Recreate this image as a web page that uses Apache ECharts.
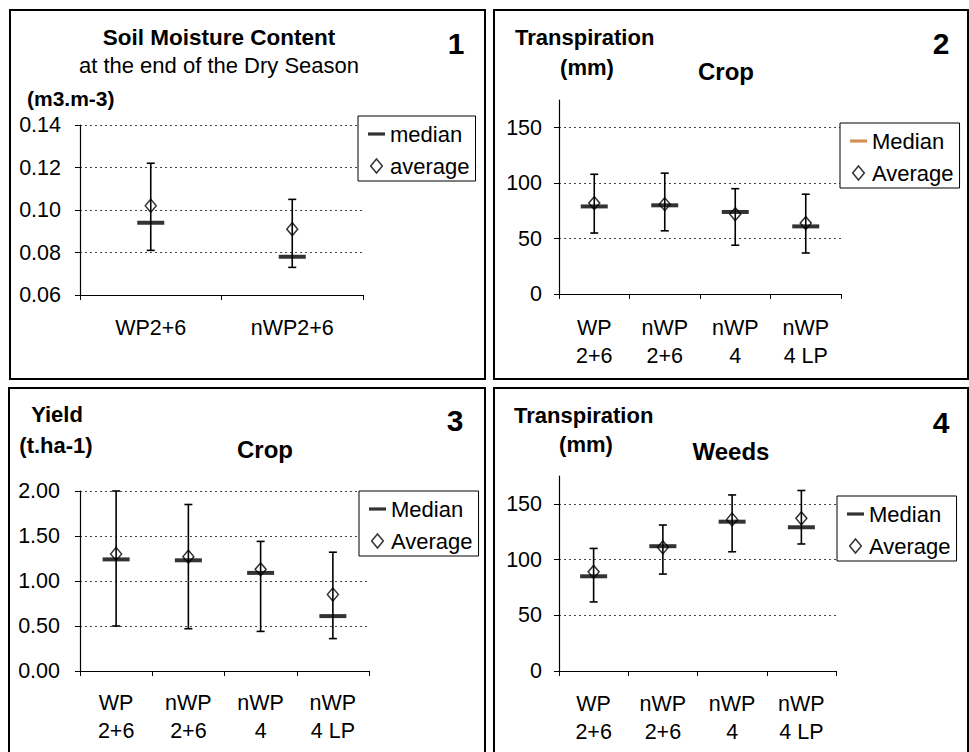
<!DOCTYPE html>
<html>
<head>
<meta charset="utf-8">
<script src="https://cdn.jsdelivr.net/npm/echarts@6/dist/echarts.min.js"></script>
<style>
  html, body { margin: 0; padding: 0; background: #fff; }
  #chart { width: 969px; height: 752px; }
</style>
</head>
<body>
<div id="chart"></div>
<script>
// categories
const soilCats = ['WP2+6', 'nWP2+6']
const treatCats = ['WP\n2+6', 'nWP\n2+6', 'nWP\n4', 'nWP\n4 LP']

// 1 - soil moisture (m3.m-3)
const soilMin = [0.081, 0.073]
const soilMax = [0.122, 0.105]
const soilMedian = [0.094, 0.078]
const soilAverage = [0.102, 0.091]

// 2 - crop transpiration (mm)
const cropTrMin = [55, 57, 44, 37]
const cropTrMax = [108, 109, 95, 90]
const cropTrMedian = [79, 80, 74, 61]
const cropTrAverage = [82, 81, 72, 64]

// 3 - crop yield (t.ha-1)
const yieldMin = [0.50, 0.47, 0.44, 0.36]
const yieldMax = [2.00, 1.85, 1.44, 1.32]
const yieldMedian = [1.24, 1.23, 1.09, 0.61]
const yieldAverage = [1.30, 1.27, 1.13, 0.85]

// 4 - weed transpiration (mm)
const weedMin = [62, 87, 107, 114]
const weedMax = [110, 131, 158, 162]
const weedMedian = [85, 112, 134, 129]
const weedAverage = [89, 111, 136, 137]

// tick labels
const soilTicks = [0.06, 0.08, 0.10, 0.12, 0.14]
const mmTicks = [0, 50, 100, 150]
const yieldTicks = [0, 0.5, 1, 1.5, 2]

const FONT = "'Liberation Sans', Arial, sans-serif"
const DASH_ICON = 'path://M0,0H16V3H0Z'
const DIAMOND_ICON = 'path://M5,0L10,6L5,12L0,6Z'

let chart = echarts.init(document.getElementById('chart'), null, { renderer: 'svg' })

function whisker (params, api) {
  const x = api.value(0)
  const lo = api.coord([x, api.value(1)])
  const hi = api.coord([x, api.value(2)])
  const w = 4
  const style = { stroke: '#000', lineWidth: 1.6 }
  return {
    type: 'group',
    children: [
      { type: 'line', shape: { x1: lo[0], y1: lo[1], x2: hi[0], y2: hi[1] }, style },
      { type: 'line', shape: { x1: hi[0] - w, y1: hi[1], x2: hi[0] + w, y2: hi[1] }, style },
      { type: 'line', shape: { x1: lo[0] - w, y1: lo[1], x2: lo[0] + w, y2: lo[1] }, style }
    ]
  }
}

function panelSeries (idx, mins, maxs, medians, averages, medName, avgName) {
  return [
    {
      type: 'scatter',
      name: avgName,
      xAxisIndex: idx,
      yAxisIndex: idx,
      symbol: 'diamond',
      symbolSize: [11, 13],
      itemStyle: { color: '#fff', borderColor: '#000', borderWidth: 1.5 },
      data: averages,
      z: 2
    },
    {
      type: 'custom',
      name: 'range',
      xAxisIndex: idx,
      yAxisIndex: idx,
      renderItem: whisker,
      encode: { x: 0, y: [1, 2] },
      data: mins.map((m, i) => [i, m, maxs[i]]),
      z: 3
    },
    {
      type: 'scatter',
      name: medName,
      xAxisIndex: idx,
      yAxisIndex: idx,
      symbol: 'rect',
      symbolSize: [27, 4],
      itemStyle: { color: '#000' },
      data: medians,
      z: 4
    }
  ]
}

function xAxisOf (idx, cats, margin) {
  return {
    type: 'category',
    gridIndex: idx,
    data: cats,
    boundaryGap: true,
    axisLine: { lineStyle: { color: '#000', width: 1.2 } },
    axisTick: { show: true, length: 5, interval: 0, lineStyle: { color: '#000' } },
    axisLabel: { interval: 0, color: '#000', fontSize: 21.5, fontFamily: FONT, lineHeight: 28, margin: margin }
  }
}

function yAxisOf (idx, min, max, interval, ticks, digits, margin) {
  return {
    type: 'value',
    gridIndex: idx,
    min: min,
    max: max,
    interval: interval,
    axisLine: { show: true, lineStyle: { color: '#000', width: 1.2 } },
    axisTick: { show: true, length: 5, customValues: ticks, lineStyle: { color: '#000' } },
    axisLabel: {
      customValues: ticks,
      color: '#000',
      fontSize: 21.5,
      fontFamily: FONT,
      margin: margin,
      formatter: v => v.toFixed(digits)
    },
    splitLine: { show: true, lineStyle: { color: '#444', width: 1, type: [2, 3] } }
  }
}

function legendOf (left, top, medName, avgName, medColor) {
  return {
    orient: 'vertical',
    left: left,
    top: top,
    selectedMode: false,
    itemWidth: 17,
    itemHeight: 14,
    itemGap: 10,
    padding: [7, 6, 4, 10],
    borderColor: '#000',
    borderWidth: 1,
    backgroundColor: '#fff',
    textStyle: { color: '#000', fontSize: 22, fontFamily: FONT, lineHeight: 22 },
    data: [
      { name: medName, icon: DASH_ICON, itemStyle: { color: medColor, borderWidth: 0 } },
      { name: avgName, icon: DIAMOND_ICON, itemStyle: { color: '#fff', borderColor: '#000', borderWidth: 1.5 } }
    ]
  }
}

function txt (x, y, text, size, bold, align) {
  return {
    type: 'text',
    x: x,
    y: y,
    z: 10,
    style: {
      text: text,
      fontSize: size,
      fontWeight: bold ? 'bold' : 'normal',
      fontFamily: FONT,
      fill: '#000',
      align: align || 'center',
      textAlign: align || 'center',
      verticalAlign: 'middle',
      textVerticalAlign: 'middle'
    }
  }
}

function box (x1, y1, x2, y2) {
  return {
    type: 'rect',
    z: 0,
    shape: { x: x1, y: y1, width: x2 - x1, height: y2 - y1 },
    style: { fill: 'none', stroke: '#000', lineWidth: 2 }
  }
}

chart.setOption({
  backgroundColor: '#fff',
  animation: false,
  grid: [
    { left: 80, top: 125, width: 283, height: 170 },
    { left: 559, top: 100, width: 282, height: 194 },
    { left: 80, top: 491, width: 289, height: 180 },
    { left: 559, top: 476, width: 277, height: 195 }
  ],
  xAxis: [
    xAxisOf(0, soilCats, 19),
    xAxisOf(1, treatCats, 20),
    xAxisOf(2, treatCats, 18),
    xAxisOf(3, treatCats, 19)
  ],
  yAxis: [
    yAxisOf(0, 0.06, 0.14, 0.02, soilTicks, 2, 19),
    yAxisOf(1, 0, 175, 50, mmTicks, 0, 17),
    yAxisOf(2, 0, 2, 0.5, yieldTicks, 2, 20),
    yAxisOf(3, 0, 175, 50, mmTicks, 0, 17)
  ],
  legend: [
    legendOf(358, 116, 'median', 'average', '#000'),
    legendOf(840, 123, 'Median', 'Average', '#c8742c'),
    legendOf(359, 491, 'Median', 'Average', '#000'),
    legendOf(837, 496, 'Median', 'Average', '#000')
  ],
  graphic: [
    box(10, 10, 485, 379),
    box(494, 10, 968, 379),
    box(9, 388, 485, 770),
    box(494, 388, 968, 770),
    // panel 1
    txt(219, 37, 'Soil Moisture Content', 22.5, true),
    txt(219, 65, 'at the end of the Dry Season', 22, false),
    txt(27, 98, '(m3.m-3)', 21, true, 'left'),
    txt(456, 43, '1', 30, true),
    // panel 2
    txt(515, 37, 'Transpiration', 22, true, 'left'),
    txt(587, 67, '(mm)', 22, true),
    txt(726, 71, 'Crop', 24, true),
    txt(941, 43, '2', 30, true),
    // panel 3
    txt(57, 414, 'Yield', 22, true),
    txt(56, 445, '(t.ha-1)', 22, true),
    txt(265, 449, 'Crop', 24, true),
    txt(455, 420, '3', 30, true),
    // panel 4
    txt(514, 415, 'Transpiration', 22, true, 'left'),
    txt(586, 444, '(mm)', 22, true),
    txt(731, 451, 'Weeds', 24, true),
    txt(941, 422, '4', 30, true)
  ],
  series: [].concat(
    panelSeries(0, soilMin, soilMax, soilMedian, soilAverage, 'median', 'average'),
    panelSeries(1, cropTrMin, cropTrMax, cropTrMedian, cropTrAverage, 'Median', 'Average'),
    panelSeries(2, yieldMin, yieldMax, yieldMedian, yieldAverage, 'Median', 'Average'),
    panelSeries(3, weedMin, weedMax, weedMedian, weedAverage, 'Median', 'Average')
  )
})
</script>
</body>
</html>
